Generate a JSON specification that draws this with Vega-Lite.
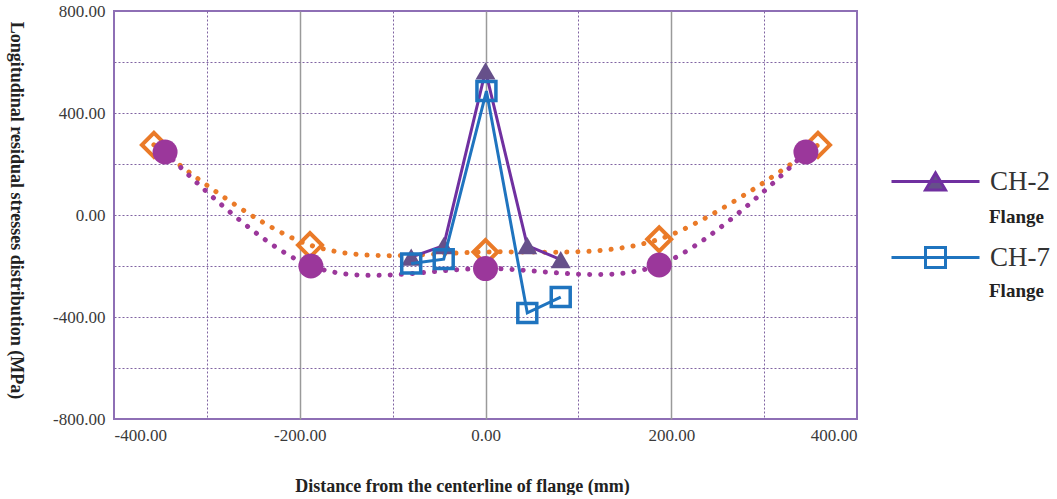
{
  "$schema": "https://vega.github.io/schema/vega-lite/v6.json",
  "width": 743,
  "height": 408,
  "padding": {"left": 6, "top": 2, "right": 0, "bottom": 0},
  "background": "white",
  "config": {
    "view": {"stroke": "#8e6fb5", "strokeWidth": 2},
    "axis": {
      "labelFont": "Liberation Serif", "labelFontSize": 17, "labelColor": "#3a3a3a",
      "titleFont": "Liberation Serif", "titleFontWeight": "bold", "titleFontSize": 18, "titleColor": "#222222",
      "domain": false, "ticks": false
    }
  },
  "data": {
    "values": [
      {"series": "CH-2", "x": -80, "y": -165},
      {"series": "CH-2", "x": -45, "y": -120},
      {"series": "CH-2", "x": 0, "y": 565},
      {"series": "CH-2", "x": 45, "y": -120},
      {"series": "CH-2", "x": 81, "y": -175},
      {"series": "CH-7", "x": -80, "y": -190},
      {"series": "CH-7", "x": -45, "y": -173},
      {"series": "CH-7", "x": 1, "y": 486},
      {"series": "CH-7", "x": 45, "y": -384},
      {"series": "CH-7", "x": 81, "y": -322},
      {"series": "Model A", "x": -357, "y": 275},
      {"series": "Model A", "x": -189, "y": -118},
      {"series": "Model A", "x": 0, "y": -145},
      {"series": "Model A", "x": 187, "y": -95},
      {"series": "Model A", "x": 358, "y": 275},
      {"series": "Model B", "x": -345, "y": 247},
      {"series": "Model B", "x": -188, "y": -200},
      {"series": "Model B", "x": 0, "y": -210},
      {"series": "Model B", "x": 187, "y": -196},
      {"series": "Model B", "x": 345, "y": 247}
    ]
  },
  "encoding": {
    "x": {
      "field": "x", "type": "quantitative",
      "scale": {"domain": [-400, 400], "nice": false, "zero": false},
      "axis": {
        "title": "Distance from the centerline of flange (mm)",
        "values": [-400, -300, -200, -100, 0, 100, 200, 300, 400],
        "labelExpr": "datum.value % 200 === 0 ? (datum.value < 0 ? '-' : '') + format(abs(datum.value), '.2f') : ''",
        "labelPadding": 8, "titlePadding": 34, "titleX": 348,
        "grid": true,
        "gridColor": {"condition": {"test": "datum.value % 200 === 0", "value": "#9a9a9a"}, "value": "#8064a2"},
        "gridDash": {"condition": {"test": "datum.value % 200 === 0", "value": []}, "value": [2, 2]},
        "gridWidth": {"condition": {"test": "datum.value % 200 === 0", "value": 1.5}, "value": 1},
        "gridOpacity": {"condition": {"test": "abs(datum.value) === 400", "value": 0}, "value": 1}
      }
    },
    "y": {
      "field": "y", "type": "quantitative",
      "scale": {"domain": [-800, 800], "nice": false, "zero": false},
      "axis": {
        "title": "Longitudinal residual stresses distribution (MPa)",
        "values": [-800, -600, -400, -200, 0, 200, 400, 600, 800],
        "labelExpr": "datum.value % 400 === 0 ? (datum.value < 0 ? '-' : '') + format(abs(datum.value), '.2f') : ''",
        "labelPadding": 9, "titlePadding": 46, "titleY": 199, "titleAngle": 90,
        "grid": true, "gridColor": "#8064a2", "gridDash": [2, 2], "gridWidth": 1,
        "gridOpacity": {"condition": {"test": "abs(datum.value) === 800", "value": 0}, "value": 1}
      }
    }
  },
  "layer": [
    {
      "transform": [{"filter": "datum.series === 'Model A' || datum.series === 'Model B'"}],
      "mark": {"type": "line", "interpolate": "cardinal", "strokeWidth": 5, "strokeDash": [0.1, 11], "strokeCap": "round"},
      "encoding": {
        "stroke": {"field": "series", "type": "nominal",
          "scale": {"domain": ["CH-2", "CH-7", "Model A", "Model B"], "range": ["#7030a0", "#1f74bf", "#ea7a28", "#9b379b"]}}
      }
    },
    {
      "transform": [{"filter": "datum.series === 'Model A'"}],
      "mark": {"type": "point", "shape": "diamond", "filled": false, "size": 576, "strokeWidth": 4, "stroke": "#ea7a28", "opacity": 1}
    },
    {
      "transform": [{"filter": "datum.series === 'Model B'"}],
      "mark": {"type": "point", "shape": "circle", "filled": true, "size": 625, "fill": "#9b379b", "opacity": 1}
    },
    {
      "transform": [{"filter": "datum.series === 'CH-2'"}],
      "mark": {"type": "line", "strokeWidth": 3},
      "encoding": {
        "stroke": {"field": "series", "type": "nominal",
          "scale": {"domain": ["CH-2", "CH-7", "Model A", "Model B"], "range": ["#7030a0", "#1f74bf", "#ea7a28", "#9b379b"]},
          "legend": {
            "values": ["CH-2", "CH-7"], "orient": "none", "legendX": 808, "legendY": 157, "title": null,
            "symbolSize": 400, "symbolStrokeWidth": 3,
            "labelFont": "Liberation Serif", "labelFontSize": 27, "labelColor": "#333333",
            "labelOffset": 41, "labelLimit": 200, "rowPadding": 45,
            "encode": {
              "symbols": {"update": {
                "shape": {"signal": "datum.value === 'CH-2' ? 'M-4.4,0H4.4M-1,0.85L0,-0.85L1,0.85Z' : 'M-4.4,0H4.4M-1,-1H1V1H-1Z'"},
                "fill": {"signal": "datum.value === 'CH-2' ? '#66508a' : 'transparent'"}
              }}
            }
          }
        }
      }
    },
    {
      "transform": [{"filter": "datum.series === 'CH-2'"}],
      "mark": {"type": "point", "filled": true, "size": 400, "fill": "#66508a", "opacity": 1},
      "encoding": {
        "shape": {"field": "series", "type": "nominal",
          "scale": {"domain": ["CH-2", "CH-7"], "range": ["triangle-up", "square"]},
          "legend": {
            "orient": "none", "legendX": 814, "legendY": 195, "title": null,
            "symbolSize": 400, "symbolOpacity": 0,
            "labelExpr": "'Flange'",
            "labelFont": "Liberation Serif", "labelFontWeight": "bold", "labelFontSize": 19, "labelColor": "#222222",
            "labelOffset": 39, "labelLimit": 200, "rowPadding": 53
          }
        }
      }
    },
    {
      "transform": [{"filter": "datum.series === 'CH-7'"}],
      "mark": {"type": "line", "strokeWidth": 3},
      "encoding": {
        "stroke": {"field": "series", "type": "nominal",
          "scale": {"domain": ["CH-2", "CH-7", "Model A", "Model B"], "range": ["#7030a0", "#1f74bf", "#ea7a28", "#9b379b"]}}
      }
    },
    {
      "transform": [{"filter": "datum.series === 'CH-7'"}],
      "mark": {"type": "point", "filled": false, "size": 360, "stroke": "#1f74bf", "strokeWidth": 3.5, "opacity": 1},
      "encoding": {
        "shape": {"field": "series", "type": "nominal",
          "scale": {"domain": ["CH-2", "CH-7"], "range": ["triangle-up", "square"]}}
      }
    }
  ]
}
